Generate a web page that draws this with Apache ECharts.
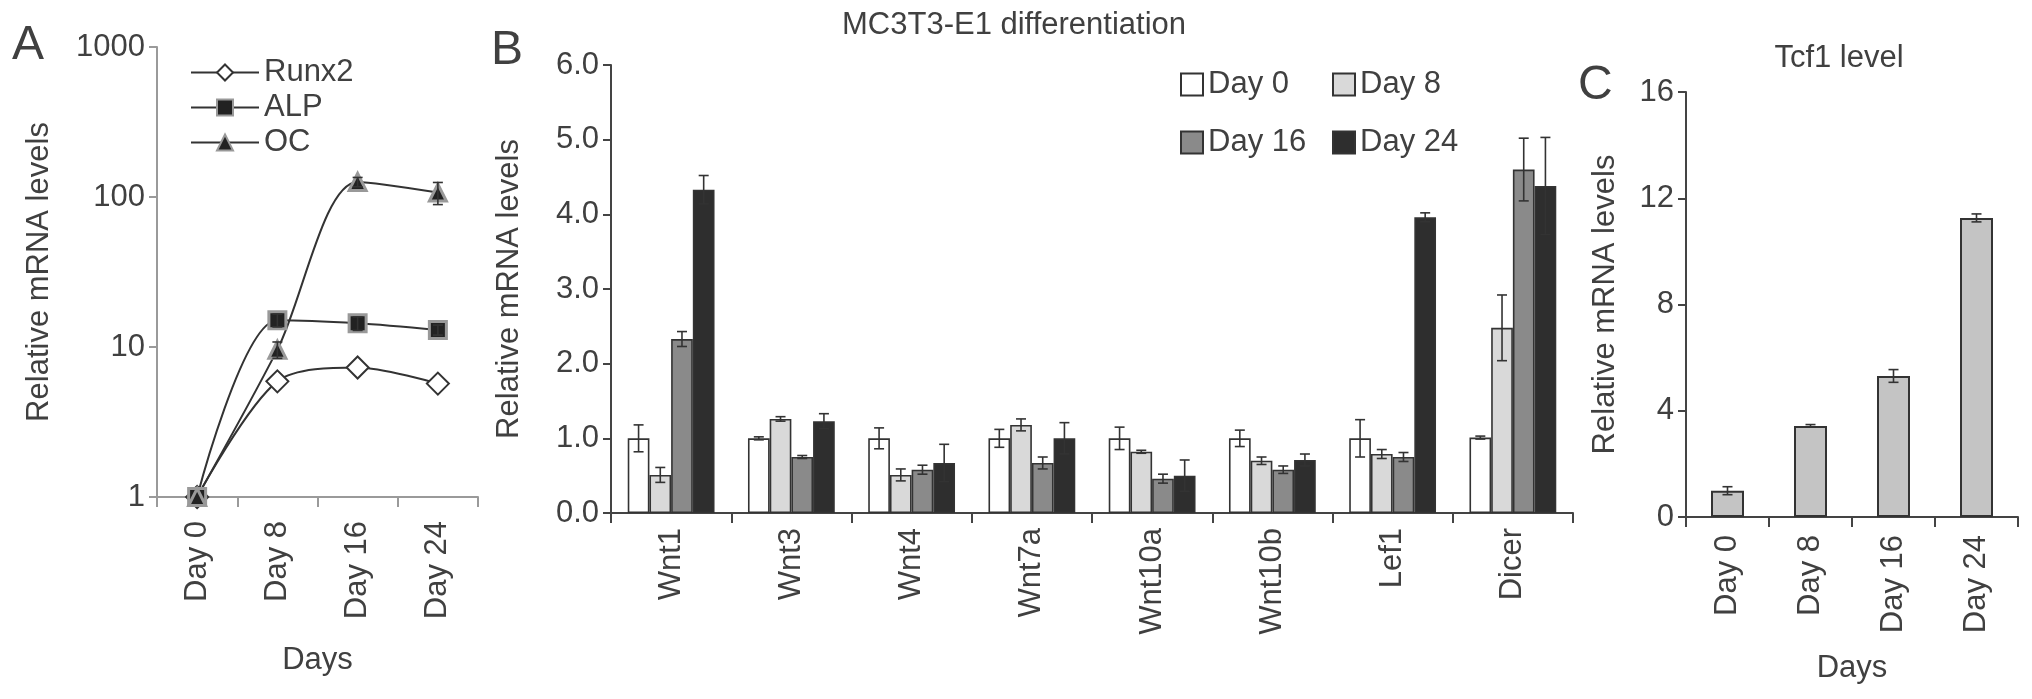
<!DOCTYPE html>
<html>
<head>
<meta charset="utf-8">
<script src="https://cdn.jsdelivr.net/npm/echarts@6.0.0/dist/echarts.min.js"></script>
<style>
  html, body { margin: 0; padding: 0; background: #fff; }
  #main { width: 2032px; height: 699px; }
</style>
</head>
<body>
<div id="main"></div>
<script>
// panel A - osteoblast markers (log scale)
var days = ['Day 0', 'Day 8', 'Day 16', 'Day 24'];
var runx2 = [1, 5.9, 7.3, 5.7];
var alp = [1, 15.1, 14.4, 13.0];
var alpErr = [0, 1.5, 1.5, 1.0];
var oc = [1, 9.6, 126, 107];
var ocErr = [0, 1.2, 9, 18];

// panel B - MC3T3-E1 differentiation
var genes = ['Wnt1', 'Wnt3', 'Wnt4', 'Wnt7a', 'Wnt10a', 'Wnt10b', 'Lef1', 'Dicer'];
var day0 = [1, 1, 1, 1, 1, 1, 1, 1.01];
var day0Err = [0.18, 0.02, 0.14, 0.12, 0.15, 0.11, 0.25, 0.02];
var day8 = [0.51, 1.26, 0.51, 1.18, 0.82, 0.70, 0.79, 2.48];
var day8Err = [0.1, 0.03, 0.08, 0.08, 0.02, 0.05, 0.06, 0.44];
var day16 = [2.33, 0.75, 0.58, 0.67, 0.46, 0.58, 0.75, 4.6];
var day16Err = [0.1, 0.02, 0.06, 0.08, 0.06, 0.05, 0.06, 0.42];
var day24 = [4.33, 1.23, 0.67, 1.0, 0.5, 0.71, 3.96, 4.38];
var day24Err = [0.19, 0.1, 0.25, 0.21, 0.21, 0.08, 0.06, 0.65];

// panel C - Tcf1
var tcf1 = [0.99, 3.43, 5.31, 11.26];
var tcf1Err = [0.15, 0.05, 0.24, 0.15];

var txt = '#404040';
var font = 'Liberation Sans';
var fs = 31;
var barW = 21.7;

function errorBars(axisIdx, offset, values, errs) {
    return {
        type: 'custom',
        xAxisIndex: axisIdx,
        yAxisIndex: axisIdx,
        z: 5,
        silent: true,
        data: values.map(function (v, i) { return [i, v, errs[i]]; }),
        renderItem: function (params, api) {
            var i = api.value(0), v = api.value(1), e = api.value(2);
            if (!e) return null;
            var top = api.coord([i, v + e]);
            var bot = api.coord([i, v - e]);
            var x = top[0] + offset;
            var st = { stroke: '#333', lineWidth: 1.6 };
            return {
                type: 'group',
                children: [
                    { type: 'line', shape: { x1: x, y1: top[1], x2: x, y2: bot[1] }, style: st },
                    { type: 'line', shape: { x1: x - 5, y1: top[1], x2: x + 5, y2: top[1] }, style: st },
                    { type: 'line', shape: { x1: x - 5, y1: bot[1], x2: x + 5, y2: bot[1] }, style: st }
                ]
            };
        }
    };
}

function catAxis(idx, data, color, margin, name, gap) {
    return {
        type: 'category',
        gridIndex: idx,
        data: data,
        boundaryGap: true,
        name: name,
        nameLocation: 'middle',
        nameGap: gap,
        nameTextStyle: { fontSize: fs, color: txt, fontFamily: font },
        axisLine: { show: true, lineStyle: { color: color, width: 2 } },
        axisTick: { show: true, alignWithLabel: false, length: 10, lineStyle: { color: color, width: 2 } },
        axisLabel: { rotate: 90, margin: margin, fontSize: fs, color: txt, fontFamily: font },
        splitLine: { show: false }
    };
}

function valAxis(idx, color, gap, extra, fmt) {
    var ax = {
        gridIndex: idx,
        name: 'Relative mRNA levels',
        nameLocation: 'middle',
        nameGap: gap,
        nameTextStyle: { fontSize: fs, color: txt, fontFamily: font },
        axisLine: { show: true, lineStyle: { color: color, width: 2 } },
        axisTick: { show: true, length: 8, lineStyle: { color: color, width: 2 } },
        axisLabel: { margin: 12, fontSize: fs, color: txt, fontFamily: font, formatter: fmt },
        splitLine: { show: false }
    };
    for (var k in extra) ax[k] = extra[k];
    return ax;
}

var dayColors = ['#ffffff', '#d9d9d9', '#8a8a8a', '#2e2e2e'];
var dayNames = ['Day 0', 'Day 8', 'Day 16', 'Day 24'];
var dayVals = [day0, day8, day16, day24];
var dayErrs = [day0Err, day8Err, day16Err, day24Err];

var series = [];

// A lines
series.push({
    name: 'Runx2', type: 'line', xAxisIndex: 0, yAxisIndex: 0, data: runx2,
    smooth: 0.3, symbol: 'diamond', symbolSize: 22,
    lineStyle: { color: '#333', width: 2 },
    itemStyle: { color: '#fff', borderColor: '#333', borderWidth: 2 }
});
series.push({
    name: 'ALP', type: 'line', xAxisIndex: 0, yAxisIndex: 0, data: alp,
    smooth: 0.3, symbol: 'rect', symbolSize: 17,
    lineStyle: { color: '#333', width: 2 },
    itemStyle: { color: '#222', borderColor: '#999', borderWidth: 3 }
});
series.push({
    name: 'OC', type: 'line', xAxisIndex: 0, yAxisIndex: 0, data: oc,
    smooth: 0.3, symbol: 'triangle', symbolSize: 17,
    lineStyle: { color: '#333', width: 2 },
    itemStyle: { color: '#222', borderColor: '#999', borderWidth: 3 }
});
series.push(errorBars(0, 0, alp, alpErr));
series.push(errorBars(0, 0, oc, ocErr));

// B grouped bars
for (var d = 0; d < 4; d++) {
    series.push({
        name: dayNames[d], type: 'bar', xAxisIndex: 1, yAxisIndex: 1,
        data: dayVals[d], barWidth: barW, barGap: '0%',
        itemStyle: { color: dayColors[d], borderColor: '#333', borderWidth: 1.6 }
    });
}
for (var d2 = 0; d2 < 4; d2++) {
    series.push(errorBars(1, (d2 - 1.5) * barW, dayVals[d2], dayErrs[d2]));
}

// C bars
series.push({
    name: 'Tcf1', type: 'bar', xAxisIndex: 2, yAxisIndex: 2, data: tcf1, barWidth: 33,
    itemStyle: { color: '#c4c4c4', borderColor: '#333', borderWidth: 2 }
});
series.push(errorBars(2, 0, tcf1, tcf1Err));

var legendText = { fontSize: fs, color: txt, fontFamily: font };

var option = {
    animation: false,
    backgroundColor: '#fff',
    textStyle: { fontFamily: font },
    grid: [
        { left: 157, top: 47, width: 321, height: 450, outerBoundsMode: 'none' },
        { left: 611, top: 65, width: 962, height: 448, outerBoundsMode: 'none' },
        { left: 1686, top: 92, width: 332, height: 425, outerBoundsMode: 'none' }
    ],
    xAxis: [
        catAxis(0, days, '#9a9a9a', 24, 'Days', 148),
        catAxis(1, genes, '#444', 15, '', 0),
        catAxis(2, days, '#444', 18, 'Days', 136)
    ],
    yAxis: [
        valAxis(0, '#9a9a9a', 102, { type: 'log', logBase: 10, min: 1, max: 1000 },
            function (v) { return String(Math.round(v)); }),
        valAxis(1, '#444', 86, { type: 'value', min: 0, max: 6, interval: 1 },
            function (v) { return v.toFixed(1); }),
        valAxis(2, '#444', 65, { type: 'value', min: 0, max: 16, interval: 4 },
            function (v) { return String(v); })
    ],
    legend: [
        {
            data: ['Runx2', 'ALP', 'OC'], orient: 'vertical', left: 185, top: 52,
            itemWidth: 68, itemHeight: 20, itemGap: 4, textStyle: legendText
        },
        {
            data: ['Day 0', 'Day 16'], orient: 'vertical', left: 1175, top: 64, icon: 'rect',
            itemWidth: 22, itemHeight: 22, itemGap: 27, textStyle: legendText
        },
        {
            data: ['Day 8', 'Day 24'], orient: 'vertical', left: 1327, top: 64, icon: 'rect',
            itemWidth: 22, itemHeight: 22, itemGap: 27, textStyle: legendText
        }
    ],
    graphic: [
        { type: 'text', x: 12, y: 22, style: { text: 'A', fontSize: 48, fontFamily: font, fill: txt } },
        { type: 'text', x: 491, y: 27, style: { text: 'B', fontSize: 48, fontFamily: font, fill: txt } },
        { type: 'text', x: 1578, y: 62, style: { text: 'C', fontSize: 48, fontFamily: font, fill: txt } },
        { type: 'text', x: 842, y: 10, style: { text: 'MC3T3-E1 differentiation', fontSize: fs, fontFamily: font, fill: txt } },
        { type: 'text', x: 1839, y: 58, style: { text: 'Tcf1 level', fontSize: fs, fontFamily: font, fill: txt, align: 'center', verticalAlign: 'middle' } }
    ],
    series: series
};

var myChart = echarts.init(document.getElementById('main'));
myChart.setOption(option);
</script>
</body>
</html>
